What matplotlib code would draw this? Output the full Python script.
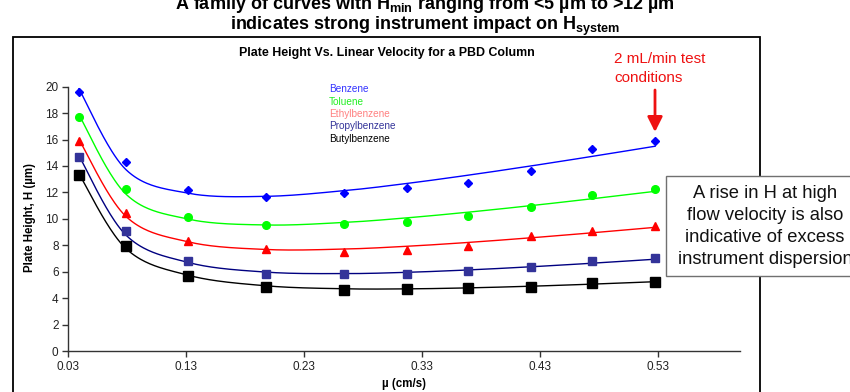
import numpy as np
import matplotlib
matplotlib.use("Agg")
import matplotlib.pyplot as plt
from matplotlib.patches import Rectangle

plt.rcParams['font.family'] = ['Liberation Sans', 'DejaVu Sans']
plt.rcParams['mathtext.fontset'] = 'custom'
plt.rcParams['mathtext.rm'] = 'Liberation Sans:bold'
plt.rcParams['mathtext.it'] = 'Liberation Sans:bold'
plt.rcParams['mathtext.bf'] = 'Liberation Sans:bold'
plt.rcParams['mathtext.default'] = 'rm'

# Linear velocity (cm/s)
velocity = [0.039, 0.079, 0.132, 0.198, 0.264, 0.317, 0.369, 0.423, 0.474, 0.528]

# Plate height H (um) per compound
benzene = [19.57, 14.33, 12.16, 11.68, 11.93, 12.36, 12.74, 13.60, 15.26, 15.90]
toluene = [17.71, 12.24, 10.14, 9.51, 9.59, 9.74, 10.24, 10.90, 11.83, 12.26]
ethylbenzene = [15.89, 10.47, 8.35, 7.74, 7.51, 7.67, 7.97, 8.68, 9.11, 9.46]
propylbenzene = [14.66, 9.06, 6.79, 5.80, 5.80, 5.80, 6.05, 6.33, 6.81, 7.01]
butylbenzene = [13.34, 7.97, 5.68, 4.84, 4.64, 4.69, 4.79, 4.87, 5.17, 5.22]

names = ["Benzene", "Toluene", "Ethylbenzene", "Propylbenzene", "Butylbenzene"]
x_ticks = [0.03, 0.13, 0.23, 0.33, 0.43, 0.53]
y_ticks = [0, 2, 4, 6, 8, 10, 12, 14, 16, 18, 20]

series = [benzene, toluene, ethylbenzene, propylbenzene, butylbenzene]
styles = [
    dict(marker='D', ms=4.5, mfc='#0000ff', mec='#0000ff', line='#0000ff', label='#3333ff'),
    dict(marker='o', ms=5.5, mfc='#00ff00', mec='#00ff00', line='#00ff00', label='#22ee22'),
    dict(marker='^', ms=6.0, mfc='#ff0000', mec='#ff0000', line='#ff0000', label='#ff8080'),
    dict(marker='s', ms=5.5, mfc='#333399', mec='#333399', line='#000080', label='#333399'),
    dict(marker='s', ms=7.5, mfc='#000000', mec='#000000', line='#000000', label='#000000'),
]

W, H = 850, 392
fig = plt.figure(figsize=(W / 100, H / 100), dpi=100)


def fx(px):
    return px / W


def fy(py):
    return 1 - py / H


def van_deemter(u, h):
    """Least-squares fit of H = A + B/u + C*u, evaluated at u."""
    basis = np.column_stack([np.ones_like(u), 1.0 / u, u])
    coef, *_ = np.linalg.lstsq(basis, h, rcond=None)
    return basis @ coef


def smooth_line(x, y, steps=40):
    """Bezier smoothing through the given nodes (Catmull-Rom style tangents)."""
    pts = np.column_stack([x, y])
    n = len(pts)
    out = []
    for i in range(n - 1):
        p0 = pts[max(i - 1, 0)]
        p1 = pts[i]
        p2 = pts[i + 1]
        p3 = pts[min(i + 2, n - 1)]
        c1 = p1 + (p2 - p0) / 6.0
        c2 = p2 - (p3 - p1) / 6.0
        t = np.linspace(0, 1, steps)[:, None]
        seg = ((1 - t) ** 3) * p1 + 3 * ((1 - t) ** 2) * t * c1 \
            + 3 * (1 - t) * (t ** 2) * c2 + (t ** 3) * p2
        out.append(seg if i == 0 else seg[1:])
    out = np.vstack(out)
    return out[:, 0], out[:, 1]


AX_L, AX_R, AX_B, AX_T = 68.3, 740, 351, 86.7
ax = fig.add_axes([fx(AX_L), fy(AX_B), fx(AX_R) - fx(AX_L), fy(AX_T) - fy(AX_B)])

u = np.array(velocity)
for vals, st in zip(series, styles):
    fit = van_deemter(u, np.array(vals))
    sx, sy = smooth_line(u, fit)
    ax.plot(sx, sy, color=st['line'], lw=1.0, zorder=2)
    ax.plot(u, vals, ls='none', marker=st['marker'], ms=st['ms'],
            mfc=st['mfc'], mec=st['mec'], zorder=3)

ax.set_xlim(0.03, 0.60)
ax.set_ylim(0, 20)
ax.set_xticks(x_ticks)
ax.set_xticklabels([f"{t:.2f}" for t in x_ticks])
ax.set_yticks(y_ticks)
for s in ['top', 'right']:
    ax.spines[s].set_visible(False)
for s in ['left', 'bottom']:
    ax.spines[s].set_color('#333333')
    ax.spines[s].set_linewidth(1.0)
ax.tick_params(axis='both', direction='out', length=4, width=1.0,
               color='#333333', labelsize=8.5, labelcolor='#222222', pad=3)
ax.set_xlabel("µ (cm/s)", fontsize=8.3, fontweight='bold', labelpad=4)
ax.set_ylabel("Plate Height, H (µm)", fontsize=8.3, fontweight='bold')
ax.yaxis.set_label_coords((36 - AX_L) / (AX_R - AX_L), (AX_B - 217) / (AX_B - AX_T))

# outer frame of the chart area
fig.patches.append(Rectangle((fx(13), fy(395)), fx(760) - fx(13), fy(37) - fy(395),
                             transform=fig.transFigure, fill=False,
                             edgecolor='black', lw=1.3, clip_on=False))

# headline
fig.text(0.5, fy(9), "A family of curves with $H_{min}$ ranging from <5 µm to >12 µm",
         ha='center', va='baseline', fontsize=13, fontweight='bold')
fig.text(0.5, fy(30), "indicates strong instrument impact on $H_{system}$",
         ha='center', va='baseline', fontsize=13, fontweight='bold')

# chart title
fig.text(fx(386.5), fy(53), "Plate Height Vs. Linear Velocity for a PBD Column",
         ha='center', va='center', fontsize=8.9, fontweight='bold')

# legend as coloured labels
for i, (nm, st) in enumerate(zip(names, styles)):
    fig.text(fx(329), fy(89.3 + 12.35 * i), nm, ha='left', va='center',
             fontsize=7.2, color=st['label'])

# test-condition callout
for i, line in enumerate(["2 mL/min test", "conditions"]):
    fig.text(fx(614), fy(59 + 18.7 * i), line, ha='left', va='center',
             fontsize=11, color='#ee1111')
ax.annotate("", xy=(fx(655), fy(132)), xytext=(fx(655), fy(90)),
            xycoords='figure fraction', textcoords='figure fraction',
            arrowprops=dict(arrowstyle='-|>,head_length=0.9,head_width=0.45',
                            color='#ee1111', lw=2.0, shrinkA=0, shrinkB=0),
            annotation_clip=False)

# note box
fig.patches.append(Rectangle((fx(666), fy(276)), fx(870) - fx(666), fy(175.7) - fy(276),
                             transform=fig.transFigure, facecolor='white',
                             edgecolor='#707070', lw=1.0, zorder=5))
note = ["A rise in H at high", "flow velocity is also",
        "indicative of excess", "instrument dispersion"]
for i, line in enumerate(note):
    fig.text(fx(765), fy(193 + 22.3 * i), line, ha='center', va='center',
             fontsize=13.2, color='#111111', zorder=6)

fig.savefig("out.png", dpi=100)
